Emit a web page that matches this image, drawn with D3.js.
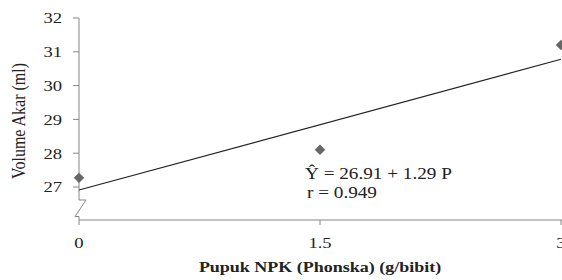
<!DOCTYPE html>
<html>
<head>
<meta charset="utf-8">
<script src="https://cdn.jsdelivr.net/npm/d3@7"></script>
<style>
  html, body { margin: 0; padding: 0; background: #fff; }
  svg { display: block; font-family: "Liberation Serif", "DejaVu Serif", serif; }
</style>
</head>
<body>
<svg id="chart" width="562" height="280"></svg>
<script>
// Data
const doses   = [0, 1.5, 3];
const volumes = [27.27, 28.1, 31.2];
const yTicks  = [27, 28, 29, 30, 31, 32];
const xTicks  = [0, 1.5, 3];
const intercept = 26.91, slope = 1.29;

const svg = d3.select('#chart');
const axisColor = '#868686';
const textColor = '#222';
const sx = 1.2; // the source text is a bit wider than tall

const x = d3.scaleLinear().domain([0, 3]).range([79, 561]);
const y = d3.scaleLinear().domain([27, 32]).range([187, 18]);
const axisY = 220;

// ── Y axis with break ──
const yAxisG = svg.append('g');
yAxisG.append('path')
  .attr('fill', 'none')
  .attr('stroke', axisColor)
  .attr('stroke-width', 1)
  .attr('d', `M${x(0)},${y(32)} V200 H86 L75,216.5 H${x(0)} V${axisY}`);

yAxisG.selectAll('.ytick')
  .data(yTicks)
  .join('line')
  .attr('x1', x(0) - 6).attr('x2', x(0))
  .attr('y1', d => y(d)).attr('y2', d => y(d))
  .attr('stroke', axisColor);

yAxisG.selectAll('.ylab')
  .data(yTicks)
  .join('text')
  .attr('transform', d => `translate(62,${y(d)}) scale(${sx},1)`)
  .attr('dy', '0.35em')
  .attr('text-anchor', 'end')
  .attr('font-size', 15.5)
  .attr('fill', textColor)
  .text(d => d);

// ── X axis ──
svg.append('line')
  .attr('x1', x(0)).attr('x2', 562)
  .attr('y1', axisY).attr('y2', axisY)
  .attr('stroke', axisColor);

svg.selectAll('.xtick')
  .data(xTicks)
  .join('line')
  .attr('x1', d => x(d)).attr('x2', d => x(d))
  .attr('y1', axisY).attr('y2', axisY + 5)
  .attr('stroke', axisColor);

svg.selectAll('.xlab')
  .data(xTicks)
  .join('text')
  .attr('transform', d => `translate(${x(d)},248) scale(${sx},1)`)
  .attr('text-anchor', 'middle')
  .attr('font-size', 15.5)
  .attr('fill', textColor)
  .text(d => d);

// ── Axis titles ──
svg.append('text')
  .attr('transform', `translate(25,121) scale(${sx},1) rotate(-90)`)
  .attr('text-anchor', 'middle')
  .attr('font-size', 16)
  .attr('fill', textColor)
  .text('Volume Akar (ml)');

svg.append('text')
  .attr('transform', `translate(320,272) scale(${sx},1)`)
  .attr('text-anchor', 'middle')
  .attr('font-size', 15)
  .attr('font-weight', 'bold')
  .attr('fill', textColor)
  .text('Pupuk NPK (Phonska) (g/bibit)');

// ── Regression line ──
svg.append('line')
  .attr('x1', x(0)).attr('y1', y(intercept))
  .attr('x2', x(3)).attr('y2', y(intercept + slope * 3))
  .attr('stroke', '#222')
  .attr('stroke-width', 1.2);

// ── Points ──
svg.selectAll('.pt')
  .data(doses.map((d, i) => ({ d, v: volumes[i] })))
  .join('path')
  .attr('transform', p => `translate(${x(p.d)},${y(p.v)})`)
  .attr('d', d3.symbol(d3.symbolDiamond2, 70))
  .attr('fill', '#666');

// ── Equation ──
svg.append('text')
  .attr('transform', `translate(305,179) scale(${sx},1)`)
  .attr('font-size', 16)
  .attr('fill', textColor)
  .text('Ŷ = 26.91 + 1.29 P');

svg.append('text')
  .attr('transform', `translate(307,198) scale(${sx},1)`)
  .attr('font-size', 16)
  .attr('fill', textColor)
  .text('r = 0.949');
</script>
</body>
</html>
